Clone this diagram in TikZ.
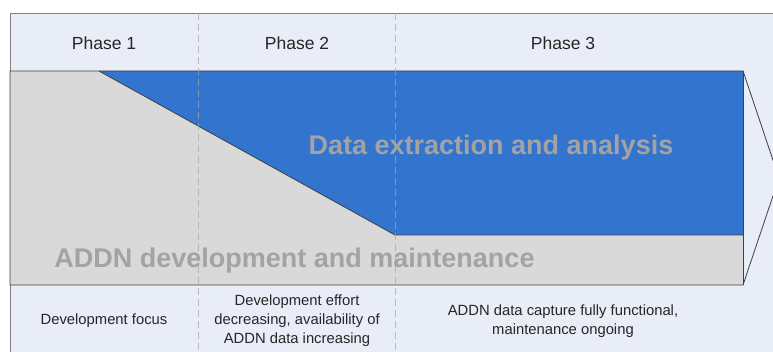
\documentclass[tikz,border=0pt]{standalone}
\usepackage{fontspec}
\setmainfont{Liberation Sans}
\usetikzlibrary{positioning}

\definecolor{bgblue}{HTML}{E8EDF7}
\definecolor{devgray}{HTML}{D9D9D9}
\definecolor{datablue}{HTML}{3374CE}
\definecolor{bannertext}{HTML}{A3A3A3}

\begin{document}
\begin{tikzpicture}[
	x=1pt, y=-1pt,
	phase/.style={font=\fontsize{17.5}{20}\selectfont, text=black!85},
	note/.style={font=\fontsize{14.8}{19}\selectfont, align=center, text=black!85},
	banner/.style={font=\fontsize{27}{30}\selectfont\bfseries, text=bannertext, anchor=base},
	outline/.style={draw=black!75, line width=0.8pt, line join=miter},
	divider/.style={draw=black!35, opacity=0.7, dash pattern=on 7pt off 4pt}
	]
	\useasboundingbox (0,0) rectangle (773,352);
	
	% Background
	\fill[bgblue] (10,13) rectangle (773,352);
	\draw[black!50] (10,352) -- (10,13) -- (773,13);
	
	% Arrow
	\fill[devgray] (10,71) rectangle (743,285);
	\fill[datablue] (99,71) -- (743,71) -- (743,235) -- (395,235) -- cycle;
	\draw[outline] (99,71) -- (395,235) -- (743,235);
	\draw[outline] (10,71) -- (743,71) -- (779,178) -- (743,285) -- (10,285) -- cycle;
	\draw[outline] (743,71) -- (743,285);
	
	% Phases
	\node[phase] (phase1) at (104,43.5) {Phase 1};
	\node[phase] (phase2) at (297,43.5) {Phase 2};
	\node[phase] (phase3) at (563,43.5) {Phase 3};
	
	% Banners
	\node[banner] (extraction) at (491,155) {Data extraction and analysis};
	\node[banner] (development) at (294.5,268) {ADDN development and maintenance};
	
	% Notes
	\node[note] (devfocus) at (104,321) {Development focus};
	\node[note] (deveffort) at (297,321) {Development effort\\decreasing, availability of\\ADDN data increasing};
	\node[note] (datacapture) at (563,321) {ADDN data capture fully functional,\\maintenance ongoing};
	
	% Dividers
	\draw[divider] (198,13) -- (198,352);
	\draw[divider] (395,13) -- (395,352);
	
\end{tikzpicture}
\end{document}
